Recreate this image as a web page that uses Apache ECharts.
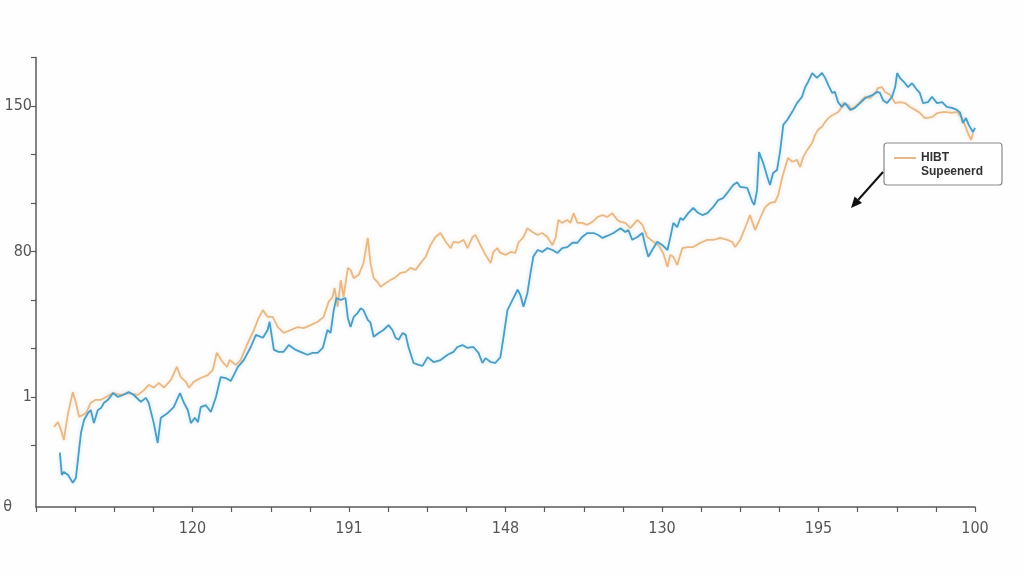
<!DOCTYPE html>
<html>
<head>
<meta charset="utf-8">
<script src="https://cdn.jsdelivr.net/npm/echarts@6/dist/echarts.min.js"></script>
<style>
html,body{margin:0;padding:0;background:#fefefe;}
#chart{width:1024px;height:576px;}
</style>
</head>
<body>
<div id="chart"></div>
<script>
// x positions (axis units, 0..240, tick every 10) and values (axis units, tick every 10)
const orangeX = [4.6,5.6,6.4,7.1,8.2,9.4,10.2,11.0,12.0,12.8,14.0,15.3,16.6,17.9,19.7,21.7,23.7,26.0,27.6,28.8,30.1,31.4,32.7,34.5,36.0,37.0,38.3,39.1,40.3,42.1,43.9,45.2,46.2,47.7,48.8,49.5,51.1,52.3,54.1,55.7,56.9,58.0,59.2,60.5,61.8,63.3,65.1,66.9,68.4,70.2,72.0,73.5,74.8,75.8,76.3,77.1,77.9,78.6,79.7,80.4,81.2,82.5,83.7,84.8,85.5,86.3,87.3,88.1,89.4,90.6,91.9,93.2,94.5,95.7,97.0,98.3,99.6,100.8,102.1,103.4,104.7,106.0,106.7,108.0,109.3,110.3,111.6,112.3,113.6,114.9,116.2,116.9,117.9,118.7,120.0,121.3,122.5,123.3,124.6,125.6,126.9,128.2,129.4,130.7,132.0,132.8,133.5,134.5,135.8,136.6,137.4,138.4,139.6,140.9,142.2,143.5,144.8,146.0,147.3,148.6,149.4,150.6,151.9,153.7,155.0,156.2,157.8,159.1,160.3,161.4,162.1,162.9,163.9,165.2,166.5,168.0,169.8,171.6,173.1,174.9,176.7,177.9,178.7,180.0,181.3,182.5,183.8,185.1,186.4,187.6,188.9,189.7,190.7,191.5,192.2,193.3,194.5,195.3,196.1,197.1,198.4,199.1,199.9,200.9,201.7,202.5,203.5,204.8,205.5,206.3,207.6,208.6,209.3,210.6,211.9,213.2,214.5,215.2,216.2,217.0,218.3,219.6,220.8,222.1,223.4,224.7,225.9,227.2,229.0,230.5,232.3,234.1,235.4,236.7,237.4,238.2,239.0,239.5];
const orangeY = [13.8,14.8,13.2,11.1,16.7,21.0,18.8,15.9,16.3,16.7,18.8,19.4,19.4,20.0,20.8,20.4,20.8,20.4,21.4,22.5,21.9,22.9,21.9,23.5,26.2,24.1,23.1,21.9,23.1,23.9,24.5,25.6,29.1,27.2,26.2,27.6,26.6,27.6,31.1,33.8,36.3,37.9,36.5,36.5,34.4,33.2,33.8,34.4,34.2,34.8,35.5,36.5,39.6,40.6,42.5,38.6,44.1,40.6,46.6,46.2,44.5,45.2,47.6,52.8,47.6,44.5,43.7,42.7,43.5,44.1,44.7,45.6,45.8,46.6,46.2,47.6,48.9,51.3,53.0,53.8,52.0,50.7,52.0,51.8,52.4,50.7,53.0,53.4,51.3,49.3,47.6,49.9,50.7,49.7,49.3,49.9,49.7,51.8,53.0,54.8,54.0,53.4,53.8,53.0,51.3,52.8,56.5,55.9,56.5,55.9,57.9,55.9,55.9,55.5,56.1,57.1,57.5,57.1,57.9,56.5,56.1,55.9,54.8,56.5,55.5,53.0,52.0,51.3,49.7,46.8,49.3,48.9,47.2,50.7,50.9,50.9,51.8,52.4,52.4,52.8,52.4,52.0,50.9,52.4,55.0,57.5,54.4,56.9,59.2,60.0,60.2,61.6,65.2,67.4,69.3,68.5,68.9,67.4,69.5,70.9,72.4,74.0,75.1,75.7,76.7,77.5,78.1,78.6,79.2,80.6,80.2,79.2,79.8,80.8,81.9,81.6,82.7,83.7,83.9,82.9,82.3,80.6,80.8,80.6,79.8,79.2,78.6,77.5,77.7,78.6,78.8,78.6,78.8,77.5,76.1,74.4,73.0,74.4];
const blueX = [6.1,6.6,7.1,8.2,9.4,10.2,11.0,11.5,12.3,13.3,14.0,14.8,15.8,16.6,17.4,18.4,19.7,20.9,22.2,23.7,25.0,26.8,28.1,28.8,30.1,31.1,31.9,33.7,35.2,36.8,37.8,38.8,39.6,40.6,41.4,42.1,43.4,44.7,46.0,47.2,48.5,49.8,51.6,53.1,54.9,56.2,58.0,59.2,59.7,60.8,62.0,63.3,64.6,66.4,68.2,69.4,70.7,72.0,73.3,74.5,75.3,76.1,76.8,77.9,79.1,79.7,80.4,81.2,82.2,83.0,83.7,84.8,85.5,86.3,87.6,88.8,90.1,91.1,91.9,92.7,93.7,94.5,95.2,96.5,97.8,98.8,100.1,101.6,103.4,105.2,106.7,107.7,109.0,110.3,111.8,113.1,114.1,114.9,116.2,117.4,118.7,119.5,120.5,121.8,123.1,123.8,124.6,125.6,126.4,127.1,128.2,129.4,130.7,132.0,133.3,134.5,135.8,137.1,138.4,139.6,140.9,142.5,143.7,144.8,146.0,147.6,149.4,150.6,151.4,152.4,153.7,155.0,155.7,156.5,157.8,158.8,160.1,161.4,162.1,162.9,163.9,164.7,165.4,166.7,168.0,169.0,170.3,171.6,173.1,174.4,175.6,176.9,178.2,179.2,180.0,181.8,183.1,183.6,184.3,184.8,185.9,186.9,187.6,188.4,189.4,190.2,191.0,192.0,193.3,194.5,195.8,196.6,197.3,198.4,199.6,200.9,201.7,202.5,203.5,204.2,205.0,206.0,206.8,208.1,209.3,210.6,211.9,212.7,213.9,215.0,215.7,216.5,217.5,218.8,219.6,220.1,220.8,222.1,222.9,223.9,225.2,225.9,226.7,228.0,229.0,230.3,231.6,232.8,234.1,235.4,236.2,236.9,237.7,238.4,239.5,240.0];
const blueY = [8.5,3.9,4.5,3.9,2.3,3.3,9.1,12.6,15.3,16.7,17.3,14.6,17.3,17.7,18.8,19.4,20.8,20.0,20.4,21.0,20.4,19.0,19.8,18.8,14.6,10.5,15.7,16.7,17.9,20.8,18.8,17.3,14.6,15.7,14.8,17.9,18.3,16.9,20.0,24.1,23.9,23.3,26.2,27.6,30.3,32.8,32.2,33.8,35.5,29.7,29.3,29.3,30.7,29.7,29.1,28.7,29.1,29.1,30.1,33.8,33.2,37.9,40.4,40.0,40.4,36.3,34.4,36.5,37.3,38.3,37.9,35.9,35.3,32.4,33.2,33.8,34.8,33.8,32.2,31.8,33.2,32.8,30.3,27.0,26.6,26.4,28.2,27.2,27.6,28.7,29.3,30.3,30.7,30.1,30.3,29.1,27.0,28.0,27.2,27.0,28.2,32.4,37.9,40.0,42.1,41.0,38.6,41.4,45.6,48.9,50.3,49.9,50.7,50.3,49.7,50.7,50.9,51.8,51.8,53.0,53.8,53.8,53.4,52.8,53.2,53.8,54.8,54.0,54.4,52.4,53.0,53.8,51.3,48.9,50.7,52.0,51.3,50.3,52.8,55.9,55.0,56.9,56.5,57.9,59.0,58.1,57.5,57.9,59.2,60.6,61.0,62.3,63.7,64.3,63.3,63.1,60.2,59.6,62.7,70.5,68.2,65.4,63.7,66.2,66.8,70.7,76.1,77.1,78.8,80.6,81.9,83.9,84.9,86.8,85.8,86.8,85.8,84.3,82.7,82.9,80.8,79.8,80.6,79.2,79.6,80.6,81.6,81.9,82.3,82.9,82.7,81.2,80.6,81.9,83.9,86.8,85.8,84.7,83.9,84.7,83.3,82.7,80.6,80.8,81.9,80.6,80.8,79.8,79.6,79.2,78.6,76.5,77.5,76.1,74.6,75.5];
// tick labels
const xTickValues = [40, 80, 120, 160, 200, 240];
const xTickLabels = ['120', '191', '148', '130', '195', '100'];
const yTickValues = [-2.7, 20, 50, 80];
const yTickLabels = ['θ', '1', '80', '150'];
const legendLines = ['HIBT', 'Supeenerd'];

const pair = (xs, ys) => xs.map((x, i) => [x, ys[i]]);
const chart = echarts.init(document.getElementById('chart'), null, {renderer: 'canvas'});

const labelFont = "'Liberation Sans Narrow','DejaVu Sans Condensed','Roboto Condensed',sans-serif";
const axisColor = '#5a5a5a';

// arrow geometry
const aStart = [883, 172], aTip = [851, 208];
const ddx = aTip[0] - aStart[0], ddy = aTip[1] - aStart[1];
const len = Math.hypot(ddx, ddy), ux = ddx / len, uy = ddy / len;
const base = [aTip[0] - ux * 11, aTip[1] - uy * 11];
const px = -uy * 5, py = ux * 5;

chart.setOption({
  backgroundColor: '#fefefe',
  animation: false,
  grid: {left: 36, right: 49, top: 57.5, bottom: 69, containLabel: false, outerBoundsMode: 'none'},
  xAxis: {
    type: 'value', min: 0, max: 240, interval: 10,
    splitLine: {show: false},
    axisLine: {onZero: false, lineStyle: {color: axisColor, width: 1.5}},
    axisTick: {show: true, length: 5, lineStyle: {color: axisColor, width: 1.2}},
    axisLabel: {
      customValues: xTickValues,
      formatter: v => { const i = xTickValues.indexOf(Math.round(v)); return i >= 0 ? xTickLabels[i] : ''; },
      color: '#555', fontSize: 16, fontFamily: labelFont, margin: 14
    }
  },
  yAxis: {
    type: 'value', min: -2.7, max: 90,
    splitLine: {show: false},
    axisLine: {show: true, onZero: false, lineStyle: {color: axisColor, width: 1.5}},
    axisTick: {show: true, length: 5, customValues: [10, 20, 30, 40, 50, 60, 70, 80, 90], lineStyle: {color: axisColor, width: 1.2}},
    axisLabel: {
      customValues: yTickValues,
      formatter: v => {
        const i = yTickValues.findIndex(t => Math.abs(t - v) < 0.05);
        if (i < 0) return '';
        return i === 0 ? '{z|' + yTickLabels[i] + '}' : yTickLabels[i];
      },
      rich: {z: {padding: [0, 20, 0, 0], color: '#555', fontSize: 16, fontFamily: labelFont}},
      color: '#555', fontSize: 16, fontFamily: labelFont, margin: 4
    }
  },
  series: [
    {
      name: 'Supeenerd', type: 'line', data: pair(orangeX, orangeY), showSymbol: false,
      lineStyle: {color: '#e8b987', width: 1.8, shadowColor: 'rgba(245,210,170,0.6)', shadowBlur: 4},
      itemStyle: {color: '#e8b987'}, z: 2
    },
    {
      name: 'HIBT', type: 'line', data: pair(blueX, blueY), showSymbol: false,
      lineStyle: {color: '#4c9cc3', width: 1.8, shadowColor: 'rgba(140,210,240,0.6)', shadowBlur: 4},
      itemStyle: {color: '#4c9cc3'}, z: 3
    }
  ],
  graphic: [
    {type: 'rect', shape: {x: 884, y: 143, width: 118, height: 42, r: 3},
     style: {fill: '#ffffff', stroke: '#8a8a8a', lineWidth: 1.2}, z: 10},
    {type: 'line', shape: {x1: 894, y1: 158, x2: 916, y2: 158},
     style: {stroke: '#e8b987', lineWidth: 2}, z: 11},
    {type: 'text', x: 921, y: 158, style: {text: legendLines[0], fill: '#333', font: "bold 12px 'Liberation Sans','Arial',sans-serif", verticalAlign: 'middle'}, z: 11},
    {type: 'text', x: 921, y: 172, style: {text: legendLines[1], fill: '#333', font: "bold 12px 'Liberation Sans','Arial',sans-serif", verticalAlign: 'middle'}, z: 11},
    {type: 'line', shape: {x1: aStart[0], y1: aStart[1], x2: base[0], y2: base[1]},
     style: {stroke: '#111', lineWidth: 2}, z: 11},
    {type: 'polygon', shape: {points: [aTip, [base[0] + px, base[1] + py], [base[0] - px, base[1] - py]]},
     style: {fill: '#111'}, z: 11}
  ]
});
</script>
</body>
</html>
